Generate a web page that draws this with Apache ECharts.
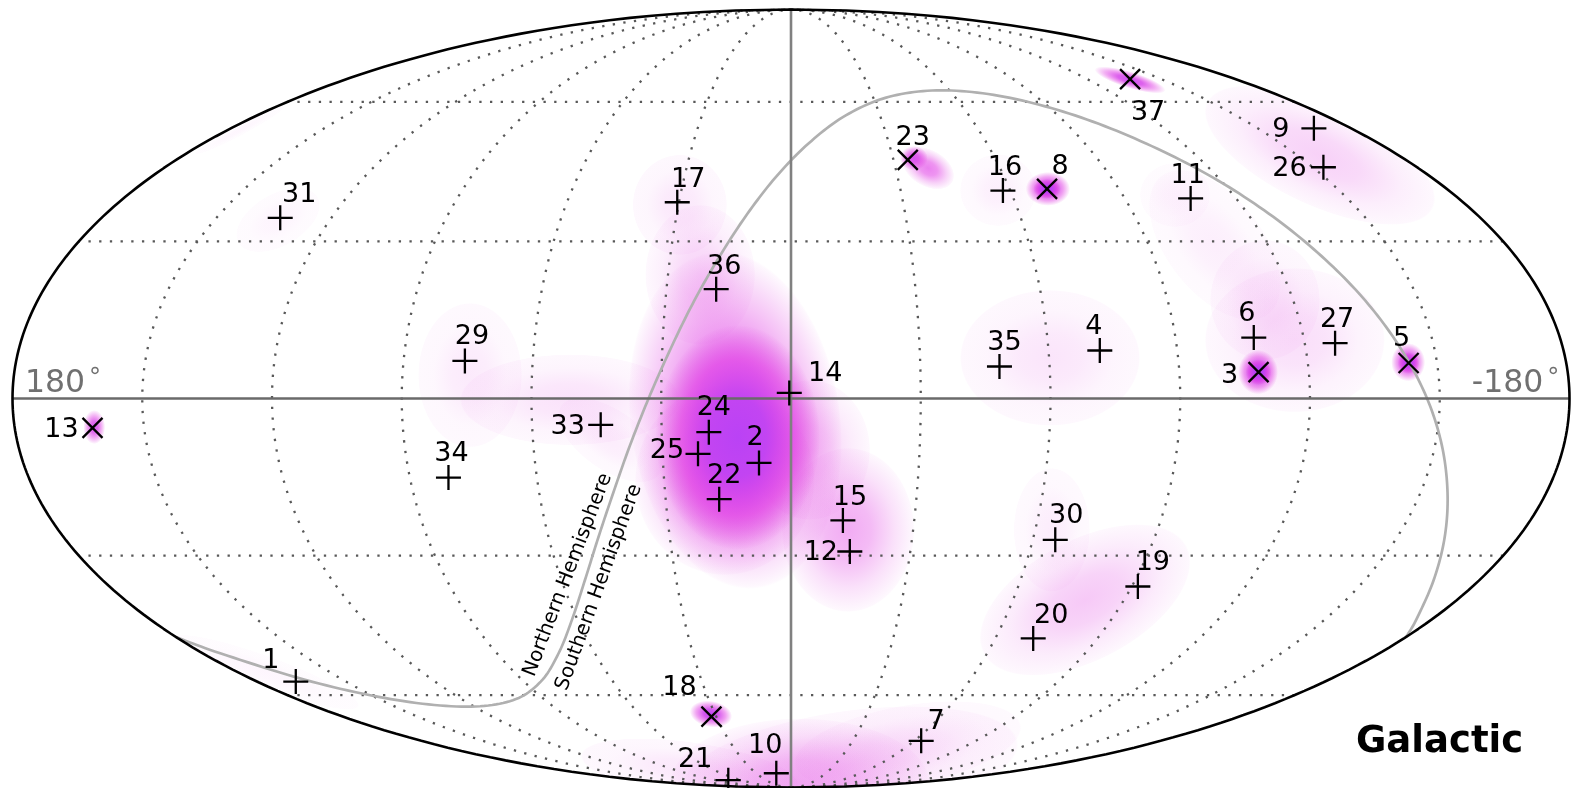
<!DOCTYPE html>
<html>
<head>
<meta charset="utf-8">
<style>html,body{margin:0;padding:0;background:#fff}#chart{width:1572px;height:788px}</style>
<script src="https://cdn.jsdelivr.net/npm/echarts@6/dist/echarts.min.js"></script>
</head>
<body>
<div id="chart"></div>
<script>
// Event positions, in projected map degrees (x: +180 left .. -180 right, y: -90..90)
const eventIds = [1,2,3,4,5,6,7,8,9,10,11,12,13,14,15,16,17,18,19,20,21,22,23,24,25,26,27,29,30,31,33,34,35,36,37];
const eventMapX = [114.5,7.4,-108.1,-71.4,-142.8,-107.0,-30.1,-59.2,-120.9,3.4,-92.4,-13.6,161.5,0.4,-12.0,-49.0,26.3,18.4,-80.2,-56.0,14.5,16.6,-27.0,19.0,21.5,-123.1,-125.8,75.4,-61.1,118.1,44.0,79.2,-48.2,17.3,-78.4];
const eventMapY = [-65.5,-14.9,6.1,11.1,8.2,14.1,-79.2,48.5,62.5,-86.7,46.3,-35.4,-6.8,1.3,-28.2,48.1,45.4,-73.6,-43.5,-55.5,-88.3,-23.3,55.2,-7.8,-12.8,53.5,12.8,8.7,-32.7,41.8,-6.1,-18.3,7.4,25.3,73.9];
const cascadeIds = [3,5,8,13,18,23,37];

// Gray curve separating the hemispheres
const equatorMapX = [142.2,131.8,110.84,91.0,75.04,64.3,57.87,53.76,50.61,47.64,44.53,41.09,37.25,32.93,28.12,22.8,16.98,10.6,3.62,-4.05,-12.67,-22.7,-34.8,-49.4,-65.65,-82.09,-97.6,-111.55,-123.59,-133.5,-141.4,-147.07,-150.5,-151.8,-151.14,-148.6,-144.6,-142.2];
const equatorMapY = [-55.2,-59.0,-65.5,-69.8,-71.3,-69.8,-65.5,-59.0,-51.1,-42.0,-32.1,-21.8,-10.9,0,10.9,21.8,32.1,42.0,51.1,59.0,65.5,69.8,71.3,69.8,65.5,59.0,51.1,42.0,32.1,21.8,10.9,0,-10.9,-21.8,-32.1,-42.0,-51.1,-55.2];

// Likelihood patches: centre, half-extent (map degrees), tilt, peak intensity
const patchX  = [-13.2,-4.4,21,25.7,74.2,51.1,41.8,12.9,15.3,12.3,-59.9,-116.5,-109.6,-98,-88.8,-122.3,-47.9,-31.7,-28.4,-59.4,-59.2,-78.4,-108,-108.1,-142.7,-142.8,161.1,18.5,118.6,121.6,127.4,-60.3,-68,-2.1,-13.6,-27,23.4];
const patchY  = [-30.4,-11.9,28.6,44.8,5.4,-0.3,-9.6,-5,-18.9,-9,9.4,13.5,22.8,35.5,47.1,56.3,48.2,53.3,55.6,48.5,48.5,73.7,6.1,6.1,8.4,8.2,-6.6,-73,41.3,-63.3,62.1,-30.4,-46.6,-89,-84.9,-80.2,-86];
const patchRx = [15.3,13.9,12.7,10.9,12,25.4,13.9,24.3,20.8,19,20.8,20.8,12.7,20.3,8.1,28.9,8.8,6.5,3.2,5.1,3.2,8.5,4.6,3,3.9,2.5,2.5,4.9,10.6,23.1,11.6,8.8,26.6,30,39.3,26.6,25.4];
const patchRy = [19,16.2,16.2,11.6,16.7,10.5,6.9,39.3,22,26,15.7,16.7,13.9,11.1,7.4,11.6,8.3,4.2,2.8,3.9,2.3,1.9,5.1,3,4.4,2.5,3.9,3,6,3.7,1.2,14.3,13.9,15,12.7,9.2,6.5];
const patchTilt = [0,0,0,0,0,0,-35,8,0,0,0,0,0,-52,0,-25,0,-30,0,0,0,-17,0,0,0,0,0,-10,30,-20,28,0,28,0,8,10,-8];
const patchPeak = [0.33,0.2,0.18,0.1,0.09,0.12,0.08,0.62,0.4,1.12,0.11,0.14,0.1,0.07,0.05,0.19,0.07,0.5,0.75,0.95,1.2,0.85,1,1.2,0.9,1.1,0.75,0.95,0.05,0.04,0.04,0.08,0.22,0.3,0.12,0.08,0.1];

const gridLons = [-150,-120,-90,-60,-30,30,60,90,120,150];
const gridLats = [-60,-30,30,60];
const hemisphereLabels = ['Northern Hemisphere','Southern Hemisphere'];
const hemisphereX = [51.6,44.4];
const hemisphereY = [-40.8,-43.7];
const lonTickLabels = ['180','-180'];
const lonTickValues = [180,-180];
const degreeMark = '\u2218';
const chartTitle = 'Galactic';

// Layout only: number label offsets (px) from each event marker
const labelOffset = {1:[-25,-23],2:[-4,-27],3:[-29,1],4:[-6,-26],5:[-7,-27],6:[-7,-26],7:[15,-21],8:[13,-24],9:[-33,-1],10:[-11,-30],11:[-3,-25],12:[-29,-1],13:[-31,0],14:[36,-21],15:[7,-25],16:[2,-25],17:[11,-25],18:[-32,-31],19:[15,-26],20:[18,-25],21:[-33,-23],22:[5,-26],23:[5,-24],24:[5,-27],25:[-31,-5],26:[-34,-1],27:[2,-26],29:[7,-26],30:[11,-26],31:[19,-25],33:[-33,0],34:[3,-26],35:[5,-26],36:[8,-25],37:[18,31]};

const FONT = '"DejaVu Sans"';
const PLUS = 'path://M0 12.5H25M12.5 0V25';
const CROSS = 'path://M0 0L20 20M20 0L0 20';

// Mollweide projection: lon/lat degrees to map degrees
function project(lon, lat) {
  const phi = lat * Math.PI / 180;
  let t = phi;
  if (Math.abs(lat) < 90) {
    for (let i = 0; i < 60; i++) {
      t -= (2 * t + Math.sin(2 * t) - Math.PI * Math.sin(phi)) / (2 + 2 * Math.cos(2 * t));
    }
  }
  return [lon * Math.cos(t), 90 * Math.sin(t)];
}
function meridian(lon) { const p = []; for (let a = -90; a <= 90; a += 1) p.push(project(lon, a)); return p; }
function parallel(lat) { return [project(-180, lat), project(180, lat)]; }
function gridLine(points, color, width, type, z) {
  return { type: 'line', data: points, showSymbol: false, silent: true, clip: false, z,
    lineStyle: { color, width, type, opacity: 1 }, animation: false };
}

// colour ramp of the likelihood patches: saturated tint with growing alpha
const RAMP = [[0,222,60,222,0],[0.05,222,60,222,0.06],[0.2,224,60,226,0.25],[0.45,225,60,230,0.6],[0.7,215,70,235,0.85],[1,186,66,245,1]];
function rampColor(v) {
  let i = 0;
  while (i < RAMP.length - 2 && v > RAMP[i + 1][0]) i++;
  const a = RAMP[i], b = RAMP[i + 1];
  const f = Math.min(1, Math.max(0, (v - a[0]) / (b[0] - a[0])));
  const m = k => a[k] + (b[k] - a[k]) * f;
  return `rgba(${m(1) | 0},${m(2) | 0},${m(3) | 0},${m(4).toFixed(3)})`;
}
function patchFill(s) {
  return new echarts.graphic.RadialGradient(0.5, 0.5, 0.5, [
    { offset: 0, color: rampColor(s) },
    { offset: 0.35, color: rampColor(s * 0.82) },
    { offset: 0.7, color: rampColor(s * 0.38) },
    { offset: 0.985, color: rampColor(Math.min(s * 0.3, 0.03)) },
    { offset: 1, color: rampColor(0) }
  ]);
}

const patchData = patchX.map((x, i) => [x, patchY[i], patchRx[i], patchRy[i], patchTilt[i], patchPeak[i]]);
const eventData = eventIds.map((id, i) => {
  const cascade = cascadeIds.includes(id);
  const off = labelOffset[id];
  return {
    value: [eventMapX[i], eventMapY[i]],
    name: String(id),
    symbol: cascade ? CROSS : PLUS,
    symbolSize: cascade ? 20 : 25,
    label: { show: true, position: 'inside', align: 'center', verticalAlign: 'middle', formatter: String(id),
      offset: [off[0], off[1] + 2.5], fontFamily: FONT, fontSize: 27, color: '#000' }
  };
});

const series = [];
series.push({
  type: 'custom', coordinateSystem: 'cartesian2d', data: patchData, clip: false, silent: true, z: 1, animation: false,
  renderItem(params, api) {
    const c = api.coord([api.value(0), api.value(1)]);
    const s = api.size([api.value(2), api.value(3)]);
    const o = api.coord([0, 0]);
    const e = api.size([180, 90]);
    return {
      type: 'group',
      clipPath: { type: 'ellipse', shape: { cx: o[0], cy: o[1], rx: e[0], ry: e[1] } },
      children: [{
        type: 'circle', x: c[0], y: c[1], rotation: api.value(4) * Math.PI / 180, scaleY: s[1] / s[0],
        shape: { cx: 0, cy: 0, r: s[0] }, style: { fill: patchFill(api.value(5)) }
      }]
    };
  }
});
gridLons.forEach(l => series.push(gridLine(meridian(l), '#585858', 2.3, [2.3, 8.4], 2)));
gridLats.forEach(l => series.push(gridLine(parallel(l), '#585858', 2.3, [2.3, 8.4], 2)));
series.push(gridLine(meridian(0), '#808080', 2.6, 'solid', 3));
series.push(gridLine(parallel(0), '#6a6a6a', 2.6, 'solid', 3));

// Hemisphere curve: the read points joined by a Catmull-Rom spline in screen space
series.push({
  type: 'custom', coordinateSystem: 'cartesian2d', clip: false, silent: true, z: 3, animation: false,
  data: equatorMapX.map((x, i) => [x, equatorMapY[i]]),
  renderItem(params, api) {
    if (params.dataIndex !== 0) return null;
    const P = equatorMapX.map((x, i) => api.coord([x, equatorMapY[i]]));
    const pts = [];
    for (let i = 0; i < P.length - 1; i++) {
      const p0 = P[Math.max(i - 1, 0)], p1 = P[i], p2 = P[i + 1], p3 = P[Math.min(i + 2, P.length - 1)];
      for (let k = 0; k < 12; k++) {
        const t = k / 12, t2 = t * t, t3 = t2 * t;
        pts.push([0, 1].map(d => 0.5 * (2 * p1[d] + (p2[d] - p0[d]) * t + (2 * p0[d] - 5 * p1[d] + 4 * p2[d] - p3[d]) * t2 + (3 * p1[d] - p0[d] - 3 * p2[d] + p3[d]) * t3)));
      }
    }
    pts.push(P[P.length - 1]);
    return { type: 'polyline', shape: { points: pts }, style: { fill: 'none', stroke: '#b0b0b0', lineWidth: 2.7 } };
  }
});
const outline = meridian(180).concat(meridian(-180).reverse());
series.push(gridLine(outline, '#000', 2.6, 'solid', 4));
series.push({
  type: 'scatter', data: eventData, silent: true, z: 5, animation: false, clip: true,
  itemStyle: { color: 'transparent', borderColor: '#000', borderWidth: 2.3, opacity: 1 }
});
series.push({
  type: 'scatter', symbolSize: 0, silent: true, z: 5, animation: false, clip: false, itemStyle: { opacity: 1 },
  data: hemisphereLabels.map((t, i) => ({ value: [hemisphereX[i], hemisphereY[i]],
    label: { show: true, position: 'inside', formatter: t, rotate: i ? 70 : 69, fontFamily: FONT, fontSize: 20, color: '#000', align: 'center', verticalAlign: 'middle' } }))
});
series.push({
  type: 'scatter', symbolSize: 0, silent: true, z: 5, animation: false, clip: false, itemStyle: { opacity: 1 },
  data: lonTickValues.map((v, i) => ({ value: [v, 0],
    label: { show: true, position: 'inside', formatter: lonTickLabels[i], fontFamily: FONT, fontSize: 31.5, color: '#707070',
      align: i ? 'right' : 'left', verticalAlign: 'middle', offset: i ? [-26.2, -15] : [12.5, -15] } }))
});
series.push({
  type: 'scatter', symbolSize: 0, silent: true, z: 5, animation: false, clip: false, itemStyle: { opacity: 1 },
  data: lonTickValues.map((v, i) => ({ value: [v, 0],
    label: { show: true, position: 'inside', formatter: degreeMark, fontFamily: FONT, fontSize: 24, color: '#707070',
      align: 'center', verticalAlign: 'middle', offset: i ? [-16.2, -26.8] : [82.5, -26.8] } }))
});

const chart = echarts.init(document.getElementById('chart'), null, { renderer: 'canvas' });
chart.setOption({
  backgroundColor: '#fff',
  animation: false,
  grid: { left: 12.5, top: 9.5, width: 1557, height: 778, containLabel: false },
  xAxis: { type: 'value', min: -180, max: 180, inverse: true, show: false },
  yAxis: { type: 'value', min: -90, max: 90, show: false },
  tooltip: { show: false },
  graphic: [{ type: 'text', left: 1356, top: 724, z: 10,
    style: { text: chartTitle, fontFamily: FONT, fontSize: 37, fontWeight: 'bold', fill: '#000' } }],
  series
});
</script>
</body>
</html>
